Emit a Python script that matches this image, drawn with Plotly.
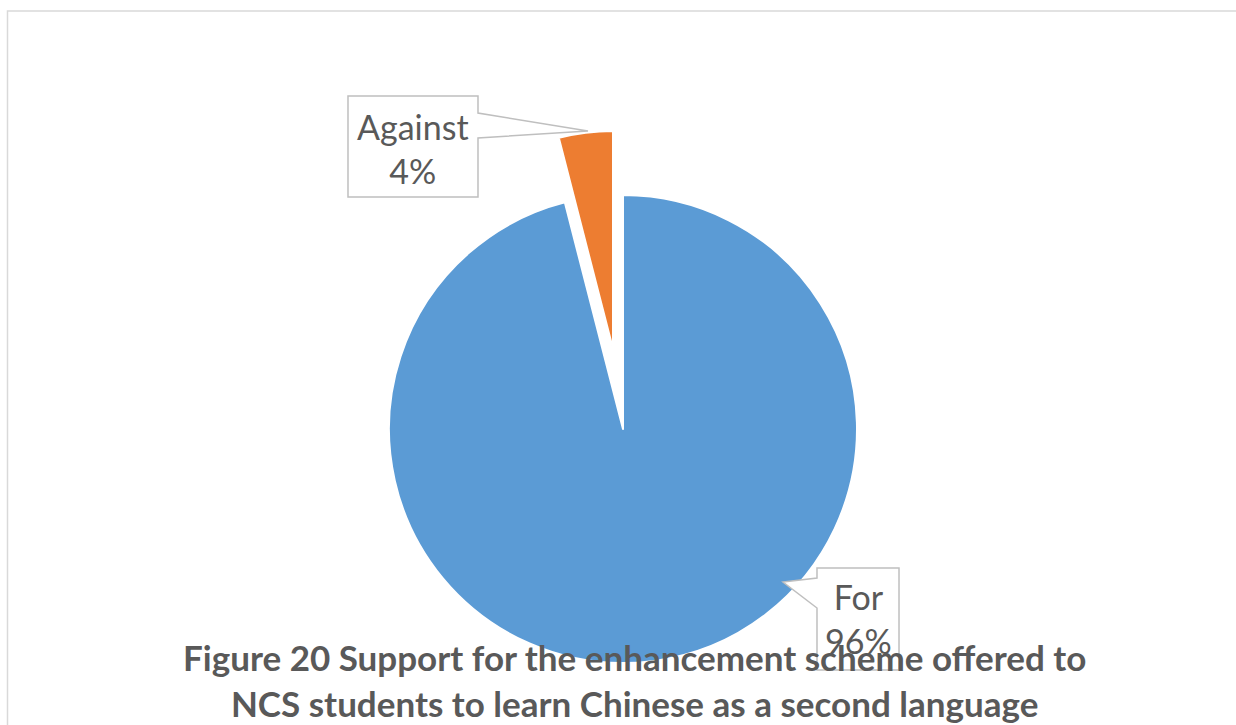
import plotly.graph_objects as go

# Survey result: support for the enhancement scheme
labels = ["For", "Against"]
values = [96, 4]
colors = ["#5B9BD5", "#ED7D31"]

title_lines = [
    "Figure 20 Support for the enhancement scheme offered to",
    "NCS students to learn Chinese as a second language",
]

W, H = 1236, 725
TRANSPARENT = "rgba(0,0,0,0)"


def px(x):
    return x / W


def py(y):
    return 1 - y / H


def box(cx, cy, r):
    """Pie domain (paper coords) for a pie centred at pixel (cx, cy) with radius r."""
    return dict(x=[px(cx - r), px(cx + r)], y=[py(cy + r), py(cy - r)])


def slice_trace(show_idx, domain):
    cols = [c if i == show_idx else TRANSPARENT for i, c in enumerate(colors)]
    lines = ["white" if i == show_idx else TRANSPARENT for i in range(len(colors))]
    return go.Pie(
        labels=labels,
        values=values,
        sort=False,
        direction="clockwise",
        rotation=0,
        marker=dict(colors=cols, line=dict(color=lines, width=2)),
        textinfo="none",
        hoverinfo="skip",
        showlegend=False,
        domain=domain,
    )


fig = go.Figure()
# main "For" slice, and the exploded "Against" slice
fig.add_trace(slice_trace(0, box(623, 429, 234)))
fig.add_trace(slice_trace(1, box(613, 349, 218)))


def path(points):
    return "M " + " L ".join(f"{px(x):.5f},{py(y):.5f}" for x, y in points) + " Z"


callout_style = dict(type="path", xref="paper", yref="paper",
                     line=dict(color="#BFBFBF", width=1.5), fillcolor="white",
                     layer="above")

shapes = [
    # outer chart border
    dict(type="rect", xref="paper", yref="paper",
         x0=px(7.5), y0=py(735), x1=px(1245), y1=py(11),
         line=dict(color="#D9D9D9", width=1.5), fillcolor=TRANSPARENT, layer="below"),
    # callout for "Against"
    dict(path=path([(348, 96), (478, 96), (478, 113), (588, 131), (478, 138),
                    (478, 197), (348, 197)]), **callout_style),
    # callout for "For"
    dict(path=path([(817, 568), (899, 568), (899, 670), (817, 670), (817, 608),
                    (783, 582), (817, 578)]), **callout_style),
]

label_font = dict(family="Lato, Open Sans, sans-serif", size=34, color="#595959")
label_pos = {"Against": (413, 148), "For": (858, 618)}

annotations = []
for lab, val in zip(labels, values):
    x, y = label_pos[lab]
    annotations.append(dict(
        text=f"{lab}<br>{val}%", x=px(x), y=py(y), xref="paper", yref="paper",
        xanchor="center", yanchor="middle", showarrow=False, font=label_font,
        align="center",
    ))

annotations.append(dict(
    text="<b>" + "<br>".join(title_lines) + "</b>",
    x=px(634), y=py(680), xref="paper", yref="paper",
    xanchor="center", yanchor="middle", showarrow=False, align="center",
    font=dict(family="Lato, Open Sans, sans-serif", size=35, color="#595959"),
))

fig.update_layout(
    width=W, height=H,
    margin=dict(l=0, r=0, t=0, b=0),
    paper_bgcolor="white",
    plot_bgcolor="white",
    shapes=shapes,
    annotations=annotations,
)

fig.write_html("out.html")
